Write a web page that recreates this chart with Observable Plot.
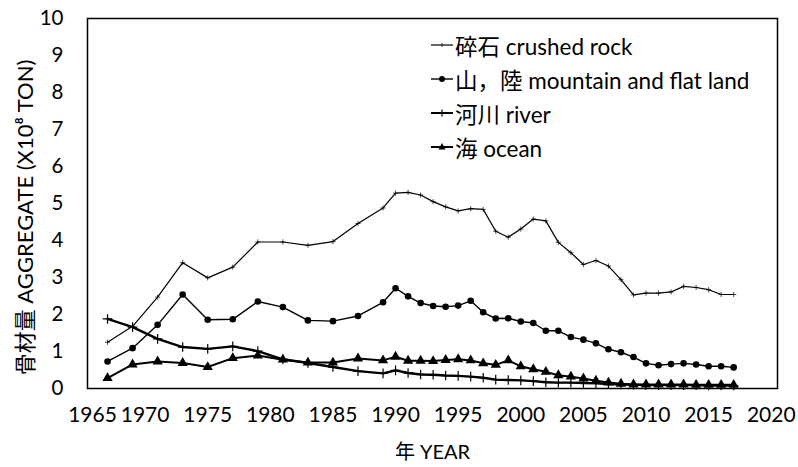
<!DOCTYPE html>
<html><head><meta charset="utf-8">
<script src="https://cdn.jsdelivr.net/npm/d3@7"></script>
<script src="https://cdn.jsdelivr.net/npm/@observablehq/plot@0.6"></script>
<style>
body{margin:0;background:#fff;}
#wrap{position:relative;width:798px;height:467px;font-family:Lato,"Noto Sans CJK JP",sans-serif;}
#legend{position:absolute;left:430px;top:28px;font-size:22.5px;color:#000;}
#legend .row{display:flex;align-items:center;height:34px;}
#legend svg{margin-right:1px;}
</style></head><body><div id="wrap"><div id="legend"></div></div>
<script>
const years = [1967,1969,1971,1973,1975,1977,1979,1981,1983,1985,1987,1989,
  1990,1991,1992,1993,1994,1995,1996,1997,1998,1999,2000,2001,2002,2003,2004,2005,
  2006,2007,2008,2009,2010,2011,2012,2013,2014,2015,2016,2017];
const crushed = [1.25,1.68,2.47,3.40,2.99,3.28,3.96,3.96,3.87,3.97,4.46,4.88,
  5.28,5.30,5.23,5.05,4.91,4.80,4.86,4.84,4.25,4.09,4.31,4.58,4.53,3.95,3.67,3.35,
  3.46,3.31,2.94,2.53,2.58,2.58,2.61,2.76,2.73,2.67,2.54,2.54];
const mountain = [0.73,1.09,1.72,2.54,1.86,1.87,2.35,2.20,1.84,1.82,1.96,2.33,
  2.71,2.49,2.31,2.23,2.21,2.24,2.37,2.06,1.89,1.90,1.81,1.77,1.56,1.56,1.39,1.32,
  1.22,1.06,0.98,0.85,0.68,0.63,0.66,0.68,0.65,0.60,0.60,0.57];
const river = [1.88,1.66,1.34,1.12,1.07,1.14,1.01,0.79,0.69,0.58,0.47,0.41,
  0.49,0.42,0.38,0.37,0.35,0.34,0.32,0.29,0.24,0.23,0.22,0.20,0.17,0.16,0.16,0.15,
  0.14,0.12,0.11,0.10,0.09,0.09,0.09,0.09,0.09,0.08,0.08,0.08];
const ocean = [0.28,0.65,0.73,0.69,0.58,0.82,0.89,0.78,0.70,0.70,0.81,0.76,
  0.86,0.75,0.75,0.74,0.77,0.79,0.76,0.68,0.64,0.76,0.60,0.52,0.45,0.36,0.32,0.27,
  0.21,0.16,0.13,0.11,0.11,0.11,0.11,0.11,0.10,0.10,0.10,0.10];
const seriesNames = ["碎石 crushed rock","山，陸 mountain and flat land","河川 river","海 ocean"];
const xTicks = [1965,1970,1975,1980,1985,1990,1995,2000,2005,2010,2015,2020];
const yTicks = [0,1,2,3,4,5,6,7,8,9,10];
const xLabel = "年 YEAR";
const yLabel = "骨材量 AGGREGATE (X10⁸ TON)";

const values = [crushed, mountain, river, ocean];
const rows = values.flatMap((vals, s) => vals.map((v, i) => ({series: s, year: years[i], value: v})));
const of = s => rows.filter(d => d.series === s);

const FONT = 'Lato, "Noto Sans CJK JP", sans-serif';
const chart = Plot.plot({
  width: 798, height: 467,
  marginLeft: 87, marginRight: 21, marginTop: 18, marginBottom: 79,
  style: {fontFamily: FONT, color: "black", background: "white", overflow: "visible"},
  x: {domain: [1965.4, 2020.5]},
  y: {domain: [0, 10]},
  marks: [
    Plot.frame({stroke: "black", strokeWidth: 1.5}),
    Plot.axisX({ticks: xTicks.slice(0, 1), tickSize: 0, tickPadding: 19, fontSize: 21, label: null, dx: 10, tickFormat: d => String(d)}),
    Plot.axisX({ticks: xTicks.slice(1), tickSize: 0, tickPadding: 19, fontSize: 21, label: null, tickFormat: d => String(d)}),
    Plot.axisY({ticks: yTicks, tickSize: 0, tickPadding: 24, fontSize: 20.5, label: null}),
    Plot.line(of(0), {x: "year", y: "value", stroke: "black", strokeWidth: 1.2}),
    Plot.dot(of(0), {x: "year", y: "value", symbol: "plus", r: 1.8, stroke: "black", strokeWidth: 0.7}),
    Plot.line(of(1), {x: "year", y: "value", stroke: "black", strokeWidth: 1.4}),
    Plot.dot(of(1), {x: "year", y: "value", r: 3.3, fill: "black"}),
    Plot.line(of(2), {x: "year", y: "value", stroke: "black", strokeWidth: 2.4}),
    Plot.dot(of(2), {x: "year", y: "value", symbol: "plus", r: 3.2, stroke: "black", strokeWidth: 1.2}),
    Plot.line(of(3), {x: "year", y: "value", stroke: "black", strokeWidth: 2}),
    Plot.dot(of(3), {x: "year", y: "value", symbol: "triangle", r: 3.8, fill: "black"}),
    Plot.text([yLabel], {text: d => d, frameAnchor: "left", textAnchor: "middle", lineAnchor: "middle", dx: -62, dy: 14, rotate: -90, fontSize: 22, fill: "black"}),
    Plot.text([xLabel], {text: d => d, frameAnchor: "bottom", textAnchor: "middle", lineAnchor: "middle", dy: 64, fontSize: 20, fill: "black"})
  ]
});
const wrap = document.getElementById("wrap");
wrap.insertBefore(chart, wrap.firstChild);

// legend
const legend = document.getElementById("legend");
const symbols = [
  '<line x1="1" y1="10" x2="23" y2="10" stroke="black" stroke-width="1.2"/><line x1="12" y1="8" x2="12" y2="12" stroke="black" stroke-width="0.8"/>',
  '<line x1="1" y1="10" x2="23" y2="10" stroke="black" stroke-width="1.4"/><circle cx="12" cy="10" r="3" fill="black"/>',
  '<line x1="1" y1="10" x2="23" y2="10" stroke="black" stroke-width="2"/><line x1="12" y1="6.5" x2="12" y2="13.5" stroke="black" stroke-width="1.2"/>',
  '<line x1="1" y1="10" x2="23" y2="10" stroke="black" stroke-width="2"/><path d="M12,6 L15.5,12.5 L8.5,12.5 Z" fill="black"/>'
];
seriesNames.forEach((name, i) => {
  const row = document.createElement("div");
  row.className = "row";
  row.innerHTML = `<svg width="24" height="20">${symbols[i]}</svg><span>${name}</span>`;
  legend.appendChild(row);
});
</script>
</body></html>
